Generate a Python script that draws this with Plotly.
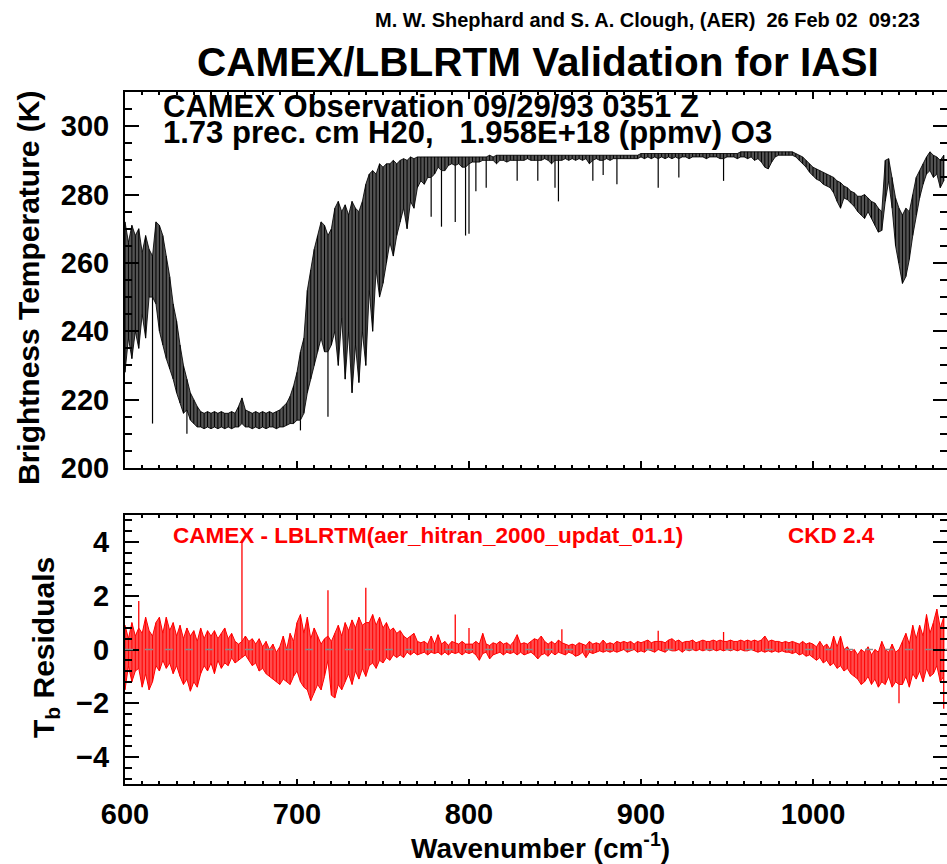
import plotly.graph_objects as go
from plotly.subplots import make_subplots

# ---------------- data ----------------
# wavenumber sampling grid (cm-1), 2 cm-1 spacing
wavenumber = list(range(600, 1077, 2))

# brightness temperature envelope (K): upper / lower value at each sample
tb_upper = [
    272, 266, 271, 268, 270, 263, 268, 264, 262, 272,
    271, 268, 262, 256, 248, 243, 236, 230, 226, 222,
    220, 218, 216.5, 216, 216.5, 216, 216.5, 216, 216.5, 216,
    216, 216.5, 216, 218, 220.5, 217, 216.5, 216, 216.5, 216,
    216.5, 216, 216.5, 216, 216.5, 217, 218, 219, 221, 224,
    228, 234, 238, 252, 258, 264, 268, 272, 271, 268,
    270, 276, 278, 275, 277, 274, 278, 276, 275, 278,
    283, 286, 287, 286, 289, 288, 289, 289, 290, 289,
    290, 290.5, 290, 291, 290.5, 291, 291, 291, 291, 291,
    291, 291, 291, 291, 291, 291, 291, 291, 291, 291,
    291, 291, 291, 291, 291, 291, 291.5, 291, 291.5, 291.5,
    291.5, 291.5, 291.5, 291.5, 291.5, 291.5, 291.5, 291.5, 291.5, 291.5,
    291.5, 291.5, 291.5, 291.5, 291.5, 291.5, 291.5, 291.5, 291.5, 291.5,
    291.5, 291.5, 291.5, 291.5, 291.5, 291.5, 291.5, 291.5, 291.5, 291.5,
    291.5, 291.5, 291.5, 291.5, 291.5, 291.5, 291.5, 291.5, 291.5, 291.5,
    292, 292, 292, 292, 292, 292, 292, 292, 292, 292,
    292, 292, 292, 292, 292, 292, 292, 292, 292, 292,
    292, 292, 292, 292, 292, 292, 292, 292, 292, 292.5,
    292.5, 292.5, 292.5, 292.5, 292.5, 292.5, 292.5, 292.5, 292.5, 292.5,
    292.5, 292.5, 292.5, 292.5, 292.5, 292, 291.5, 291, 290, 289,
    288, 287.5, 287, 286.5, 286, 285.5, 285, 284, 283.5, 282.5,
    282, 281, 280.5, 279.5, 279.5, 280, 279, 278, 277.5, 276,
    275, 290, 290.5, 285, 279, 276, 274, 276, 275, 280,
    285, 287, 289, 291, 292.5, 291.5, 291, 290, 291.5,
]
tb_lower = [
    228, 238, 232, 240, 235, 245, 238, 250, 250, 248,
    240, 236, 232, 229, 226, 222, 219, 216, 217, 214,
    213, 212, 212, 211.5, 212, 211.5, 212, 211.5, 212, 211.5,
    212, 211.5, 212, 212, 213, 212, 212, 211.5, 212, 211.5,
    212, 211.5, 212, 212, 211.5, 212, 212, 212.5, 213, 213,
    214, 214, 216, 222, 226, 230, 234, 238, 234, 234,
    236, 240, 230, 244, 226, 240, 222, 236, 225, 240,
    230, 252, 240, 258, 250, 254, 260, 266, 262, 268,
    272, 276, 270, 278, 276, 282, 284, 283, 285, 285,
    286, 288, 287, 287, 288.5, 289, 288.5, 289, 288, 288,
    289, 289.5, 289.5, 289.5, 290, 290, 290, 290, 289, 290,
    290, 289.5, 290, 290, 290, 290, 290, 290.5, 290, 290,
    290, 290, 290.5, 290, 289, 290, 290, 290, 290.5, 290,
    290.5, 290, 290.5, 290, 290.5, 289, 290, 290.5, 290, 290,
    290.5, 290, 290.5, 290.5, 290.5, 290.5, 290.5, 290.5, 290.5, 290.5,
    291, 290.5, 291, 290.5, 291, 290.5, 291, 290.5, 291, 290.5,
    291, 290.5, 291, 291, 290.5, 291, 291, 291, 291, 290.5,
    291, 291, 291, 290.5, 290.5, 291, 291, 291, 290.5, 291,
    291, 290.5, 291, 290, 290.5, 289.5, 288, 287.5, 289.5, 291,
    291.5, 291.5, 291.5, 291.5, 291.5, 291, 290, 289, 288, 286.5,
    285.5, 284.5, 284, 283, 282.5, 282, 280.5, 278, 276, 279,
    278.5, 277.5, 276.5, 275, 274, 273, 275, 273, 271, 269,
    269.5, 278, 284, 276, 265, 260, 254, 256, 261, 268,
    274, 279, 283, 286, 287, 285, 286, 282, 284,
]

# narrow absorption lines reaching below the envelope: grid wavenumber, minimum Tb (K)
line_wn = [616, 636, 702, 718, 778, 784, 792, 798, 800, 804, 810, 828,
           840, 850, 852, 872, 878, 886, 910, 922, 948]
line_tb = [213, 210, 211, 215, 273.5, 270.6, 272, 268, 268.5, 281, 282, 284,
           284, 282, 278, 284, 285.7, 283, 282, 285, 284]

# residuals CAMEX - LBLRTM (K): upper / lower value at each sample
res_upper = [
    0.9, 0.4, 1.0, 0.5, 0.8, 0.6, 1.2, 0.7, 0.5, 1.0,
    1.2, 0.6, 1.2, 0.7, 1.0, 0.5, 0.9, 0.4, 0.8, 0.5,
    0.7, 0.3, 0.8, 0.4, 0.7, 0.5, 0.7, 0.4, 0.6, 0.8,
    0.4, 0.6, 0.3, 0.2, 0.3, 0.5, 0.3, 0.4, 0.2, 0.4,
    0.1, 0.3, 0.0, 0.2, -0.1, 0.1, 0.5, 0.0, 0.6, 0.3,
    1.0, 1.3, 0.6, 1.2, 0.4, 0.8, 0.5, 0.2, 0.4, 0.5,
    0.3, 0.6, 0.9, 0.5, 1.0, 0.7, 1.1, 0.8, 1.2, 0.9,
    1.0, 1.0, 1.3, 0.9, 1.2, 0.8, 1.0, 0.7, 0.8, 0.6,
    0.7, 0.5, 0.4, 0.5, 0.6, 0.3, 0.25, 0.3, 0.2, 0.5,
    0.2, 0.55, 0.2, 0.3, 0.15, 0.3, 0.25, 0.2, 0.3, 0.2,
    0.2, 0.2, 0.3, 0.2, 0.6, 0.2, 0.15, 0.25, 0.2, 0.3,
    0.2, 0.25, 0.15, 0.3, 0.55, 0.2, 0.25, 0.2, 0.3, 0.4,
    0.35, 0.5, 0.3, 0.2, 0.3, 0.2, 0.35, 0.25, 0.2, 0.15,
    0.2, 0.15, 0.25, 0.2, 0.15, 0.3, 0.2, 0.25, 0.2, 0.35,
    0.2, 0.25, 0.2, 0.3, 0.25, 0.3, 0.25, 0.3, 0.2, 0.3,
    0.25, 0.3, 0.35, 0.25, 0.3, 0.3, 0.3, 0.25, 0.35, 0.4,
    0.3, 0.35, 0.25, 0.3, 0.3, 0.35, 0.25, 0.3, 0.35, 0.3,
    0.3, 0.35, 0.3, 0.35, 0.3, 0.3, 0.35, 0.3, 0.3, 0.35,
    0.3, 0.35, 0.3, 0.35, 0.3, 0.35, 0.5, 0.3, 0.35, 0.3,
    0.3, 0.25, 0.3, 0.25, 0.3, 0.25, 0.2, 0.3, 0.2, 0.25,
    0.2, 0.1, 0.3, 0.1, 0.2, 0.0, 0.5, 0.1, 0.5, 0.0,
    0.1, -0.1, 0.0, -0.2, 0.0, -0.1, 0.1, -0.2, 0.0, -0.1,
    0.3, 0.0, -0.1, 0.2, -0.1, 0.0, 0.3, 0.6, 0.2, 0.9,
    0.4, 0.9, 0.5, 1.3, 0.6, 1.0, 1.5, 0.8, 1.2,
]
res_lower = [
    -1.5, -0.6, -1.2, -0.8, -0.7, -1.4, -0.9, -1.5, -1.2, -0.6,
    -0.8, -0.4, -0.7, -0.5, -0.9, -0.6, -1.0, -1.3, -1.1, -1.55,
    -1.2, -1.4, -0.9, -0.6, -0.8, -0.5, -0.9, -0.4, -0.7, -0.5,
    -0.6, -0.3, -0.5, -0.4, -0.3, -0.2, -0.4, -0.6, -0.5, -0.8,
    -0.7, -0.9, -1.0, -1.1, -1.2, -1.3, -1.1, -1.2, -1.3, -1.0,
    -0.8, -1.2, -1.4, -1.5, -1.9, -1.6, -1.3, -1.5, -1.0, -0.4,
    -1.7, -1.8, -1.3, -1.5, -1.2, -0.9, -1.3, -0.8, -1.1, -0.7,
    -1.0, -0.6, -0.5, -0.7, -0.4, -0.5, -0.3, -0.4, -0.2, -0.3,
    -0.2, -0.3, -0.1, -0.2, -0.1, -0.2, -0.15, -0.1, -0.2, -0.1,
    -0.15, -0.1, -0.2, -0.1, -0.2, -0.1, -0.15, -0.1, -0.2, -0.1,
    -0.15, -0.1, -0.2, -0.4, -0.15, -0.1, -0.35, -0.2, -0.15, -0.1,
    -0.2, -0.1, -0.15, -0.1, -0.2, -0.1, -0.2, -0.15, -0.1, -0.2,
    -0.35, -0.2, -0.15, -0.25, -0.1, -0.2, -0.1, -0.15, -0.2, -0.1,
    -0.15, -0.25, -0.2, -0.1, -0.3, -0.1, -0.15, -0.1, -0.05, -0.1,
    -0.05, -0.1, -0.05, -0.1, -0.05, 0.0, -0.1, -0.05, 0.0, -0.1,
    -0.05, -0.1, 0.0, -0.05, -0.1, 0.0, -0.05, -0.1, 0.0, -0.05,
    -0.05, 0.0, -0.1, 0.0, -0.05, 0.0, -0.05, 0.0, -0.05, 0.0,
    -0.05, 0.0, -0.05, 0.0, -0.05, 0.0, -0.05, 0.0, -0.05, 0.0,
    -0.05, -0.05, 0.0, -0.05, -0.1, -0.05, -0.1, -0.05, -0.1, -0.05,
    -0.1, -0.05, -0.1, -0.1, -0.15, -0.1, -0.2, -0.15, -0.25, -0.2,
    -0.3, -0.4, -0.3, -0.5, -0.4, -0.6, -0.5, -0.7, -0.6, -0.8,
    -0.7, -0.9, -1.0, -1.1, -1.3, -1.2, -1.0, -1.3, -1.1, -1.4,
    -1.2, -1.3, -1.0, -1.4, -1.2, -1.3, -1.3, -1.0, -1.4, -0.9,
    -1.1, -0.8, -1.2, -0.7, -1.0, -0.9, -0.6, -1.2, -1.0,
]

# isolated residual spikes: grid wavenumber, extreme value (K)
spike_wn = [608, 668, 718, 740, 792, 800, 854, 910, 948, 1050, 1076]
spike_res = [1.8, 4.0, 2.2, 2.3, 1.3, 0.8, 0.75, 0.7, 0.65, -2.0, -2.2]

tb_ticks = [200, 220, 240, 260, 280, 300]
res_ticks = [-4, -2, 0, 2, 4]
wn_ticks = [600, 700, 800, 900, 1000]


# --------------- helpers to turn the envelopes into drawable paths ---------------
def verticals(xs, lo, hi):
    px, py = [], []
    for x, a, b in zip(xs, lo, hi):
        px += [x, x, None]
        py += [a, b, None]
    return px, py


def band(xs, lo, hi):
    return list(xs) + list(xs)[::-1], list(hi) + list(lo)[::-1]


FONT = "Liberation Sans"
W, H = 947, 864
L, R = 125, 947
TOP1, BOT1 = 92, 468
TOP2, BOT2 = 515, 784


def px2x(p):
    return p / W


def px2y(p):
    return 1 - p / H


fig = make_subplots(rows=2, cols=1)

# top panel: observed brightness temperature
bx, by = band(wavenumber, tb_lower, tb_upper)
fig.add_trace(go.Scatter(x=bx, y=by, mode="lines", fill="toself",
                         fillcolor="rgba(35,35,35,0.78)",
                         line=dict(color="rgba(0,0,0,0.85)", width=1),
                         showlegend=False, hoverinfo="skip"), row=1, col=1)
vx, vy = verticals(wavenumber, tb_lower, tb_upper)
fig.add_trace(go.Scatter(x=vx, y=vy, mode="lines",
                         line=dict(color="black", width=1),
                         showlegend=False, hoverinfo="skip"), row=1, col=1)
lower_at = dict(zip(wavenumber, tb_lower))
sx, sy = [], []
for w, t in zip(line_wn, line_tb):
    sx += [w, w, None]
    sy += [lower_at[w], t, None]
fig.add_trace(go.Scatter(x=sx, y=sy, mode="lines",
                         line=dict(color="black", width=1.2),
                         showlegend=False, hoverinfo="skip"), row=1, col=1)

# bottom panel: residuals
bx, by = band(wavenumber, res_lower, res_upper)
fig.add_trace(go.Scatter(x=bx, y=by, mode="lines", fill="toself",
                         fillcolor="rgba(255,0,0,0.7)",
                         line=dict(color="#ff0000", width=1),
                         showlegend=False, hoverinfo="skip"), row=2, col=1)
vx, vy = verticals(wavenumber, res_lower, res_upper)
fig.add_trace(go.Scatter(x=vx, y=vy, mode="lines",
                         line=dict(color="#ff0000", width=1),
                         showlegend=False, hoverinfo="skip"), row=2, col=1)
res_env = {w: (a, b) for w, a, b in zip(wavenumber, res_lower, res_upper)}
px_, py_ = [], []
for w, v in zip(spike_wn, spike_res):
    a, b = res_env[w]
    px_ += [w, w, None]
    py_ += [(b if v > 0 else a), v, None]
fig.add_trace(go.Scatter(x=px_, y=py_, mode="lines",
                         line=dict(color="#ff0000", width=1.3),
                         showlegend=False, hoverinfo="skip"), row=2, col=1)

fig.add_hline(y=0, line=dict(color="#8a8a8a", width=1.5, dash="8px,12px"),
              row=2, col=1)

xrange_ = [600, 600 + (R - L) / 1.72]

axis_common = dict(
    showline=True, linecolor="black", linewidth=2, mirror="allticks",
    ticks="inside", tickcolor="black", showgrid=False, zeroline=False,
    automargin=False,
    tickfont=dict(family=FONT, size=29, color="black", weight="bold"),
)

fig.update_xaxes(range=xrange_, tickvals=wn_ticks, ticklen=7, tickwidth=2,
                 minor=dict(ticks="inside", dtick=10, ticklen=3, tickwidth=1.5,
                            tickcolor="black", showgrid=False),
                 domain=[px2x(L), px2x(R)], **axis_common)
fig.update_xaxes(showticklabels=False, row=1, col=1)
fig.update_xaxes(showticklabels=True, ticklabelstandoff=3, ticklen=5, row=2, col=1)

fig.update_yaxes(range=[200, 310], tickvals=tb_ticks, ticklen=14, tickwidth=2,
                 minor=dict(ticks="inside", dtick=5, ticklen=7, tickwidth=1.5,
                            tickcolor="black", showgrid=False),
                 domain=[px2y(BOT1), px2y(TOP1)], ticklabelstandoff=8,
                 row=1, col=1, **axis_common)
fig.update_yaxes(range=[-5, 5], tickvals=res_ticks, ticklen=14, tickwidth=2,
                 minor=dict(ticks="inside", dtick=0.4, ticklen=7, tickwidth=1.5,
                            tickcolor="black", showgrid=False),
                 domain=[px2y(BOT2), px2y(TOP2)], ticklabelstandoff=8,
                 row=2, col=1, **axis_common)

ann = []
ann.append(dict(text="M. W. Shephard and S. A. Clough, (AER)\u00a0\u00a026 Feb 02\u00a0\u00a009:23",
                x=px2x(922), y=px2y(20), xanchor="right", yanchor="middle",
                font=dict(family=FONT, size=20, color="black", weight="bold")))
ann.append(dict(text="CAMEX/LBLRTM Validation for IASI",
                x=px2x(538), y=px2y(62), xanchor="center", yanchor="middle",
                font=dict(family=FONT, size=40.5, color="black", weight="bold")))
ann.append(dict(text="CAMEX Observation 09/29/93 0351 Z",
                x=px2x(161), y=px2y(106), xanchor="left", yanchor="middle",
                font=dict(family=FONT, size=31, color="black", weight="bold")))
ann.append(dict(text="1.73 prec. cm H20,\u00a0\u00a0\u00a01.958E+18 (ppmv) O3",
                x=px2x(161), y=px2y(133), xanchor="left", yanchor="middle",
                font=dict(family=FONT, size=31, color="black", weight="bold")))
ann.append(dict(text="CAMEX - LBLRTM(aer_hitran_2000_updat_01.1)",
                x=px2x(171), y=px2y(535), xanchor="left", yanchor="middle",
                font=dict(family=FONT, size=22.5, color="#ff0000", weight="bold")))
ann.append(dict(text="CKD 2.4",
                x=px2x(786), y=px2y(535), xanchor="left", yanchor="middle",
                font=dict(family=FONT, size=22.5, color="#ff0000", weight="bold")))
ann.append(dict(text="Brightness Temperature (K)", textangle=-90,
                x=px2x(29), y=px2y(288), xanchor="center", yanchor="middle",
                font=dict(family=FONT, size=30, color="black", weight="bold")))
ann.append(dict(text="T<sub>b</sub> Residuals", textangle=-90,
                x=px2x(45), y=px2y(648), xanchor="center", yanchor="middle",
                font=dict(family=FONT, size=30, color="black", weight="bold")))
ann.append(dict(text="Wavenumber (cm<sup>-1</sup>)",
                x=px2x(540), y=px2y(846), xanchor="center", yanchor="middle",
                font=dict(family=FONT, size=28, color="black", weight="bold")))
for a in ann:
    a.update(xref="paper", yref="paper", showarrow=False)

fig.update_layout(
    width=W, height=H, margin=dict(l=0, r=0, t=0, b=0, autoexpand=False),
    paper_bgcolor="white", plot_bgcolor="white",
    annotations=ann, showlegend=False,
)

fig.write_html(
    "out.html",
    config={"displayModeBar": False},
    post_script="document.body.style.margin='0';document.body.style.overflow='hidden';",
)
